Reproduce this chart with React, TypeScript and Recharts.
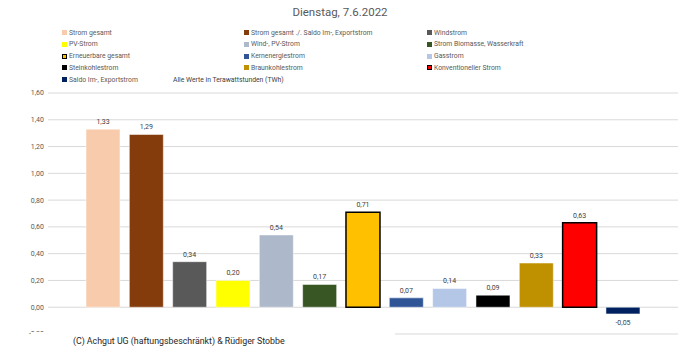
import React from 'react';
import { BarChart, Bar, XAxis, YAxis, CartesianGrid, LabelList } from 'recharts';

const seriesNames = [
	'Strom gesamt',
	'Strom gesamt ./. Saldo Im-, Exportstrom',
	'Windstrom',
	'PV-Strom',
	'Wind-, PV-Strom',
	'Strom Biomasse, Wasserkraft',
	'Erneuerbare gesamt',
	'Kernenergiestrom',
	'Gasstrom',
	'Steinkohlestrom',
	'Braunkohlestrom',
	'Konventioneller Strom',
	'Saldo Im-, Exportstrom'
];
const seriesValues = [1.33, 1.29, 0.34, 0.2, 0.54, 0.17, 0.71, 0.07, 0.14, 0.09, 0.33, 0.63, -0.05];
const seriesColors = [
	'#F8CBAD', '#843C0C', '#595959', '#FFFF00', '#ADB9CA', '#375623', '#FFC000',
	'#2F5597', '#B4C7E7', '#000000', '#BF9000', '#FF0000', '#002060'
];
const outlined = ['Erneuerbare gesamt', 'Konventioneller Strom'];
const yTicks = [-0.2, 0, 0.2, 0.4, 0.6, 0.8, 1.0, 1.2, 1.4, 1.6];
const category = 'Dienstag, 7.6.2022';

const fmt = (v: number) => v.toFixed(2).replace('.', ',');

const row: Record<string, any> = { name: category };
seriesNames.forEach((n, i) => { row[n] = seriesValues[i]; });
const chartData = [row];

const FONT = 'Roboto, "Noto Sans", sans-serif';

const ValueLabel = (props: any) => {
	const { x, y, width, height, value } = props;
	const top = Math.min(y, y + height);
	const bottom = Math.max(y, y + height);
	const ty = value >= 0 ? top - 7 : bottom + 9;
	return (
		<text x={x + width / 2} y={ty} textAnchor="middle" dominantBaseline="middle" fontSize={7} fill="#404040" fontFamily={FONT}>
			{fmt(value)}
		</text>
	);
};

const App = () => {
	return (
		<div style={{ position: 'absolute', left: 0, top: 0, width: 680, height: 355, background: '#fff', fontFamily: FONT }}>
			<div style={{ position: 'absolute', top: 5, width: 680, textAlign: 'center', fontSize: 11.5, color: '#595959' }}>
				{category}
			</div>
			{seriesNames.map((n, i) => {
				const col = i % 3;
				const r = Math.floor(i / 3);
				const left = [62, 244, 427][col];
				return (
					<div key={n} style={{ position: 'absolute', left, top: 28 + r * 11.8, height: 9, display: 'flex', alignItems: 'center', fontSize: 6.8, color: '#595959', whiteSpace: 'nowrap' }}>
						<span style={{
							display: 'inline-block', width: 5, height: 5, marginRight: 2, background: seriesColors[i], boxSizing: 'border-box',
							border: outlined.includes(n) ? '1px solid #000' : 'none'
						}} />
						{n}
					</div>
				);
			})}
			<div style={{ position: 'absolute', left: 173, top: 75.5, height: 9, display: 'flex', alignItems: 'center', fontSize: 6.8, color: '#404040', whiteSpace: 'nowrap' }}>
				Alle Werte in Terawattstunden (TWh)
			</div>
			<div style={{ position: 'absolute', left: 0, top: 0 }}>
				<BarChart width={680} height={355} data={chartData} margin={{ top: 93, right: 2, bottom: 21, left: 0 }} barSize={34} barGap={9.33}>
					<CartesianGrid vertical={false} stroke="#d9d9d9" />
					<XAxis dataKey="name" hide />
					<YAxis
						width={48}
						domain={[-0.2, 1.6]}
						ticks={yTicks}
						tickFormatter={fmt}
						axisLine={false}
						tickLine={false}
						tickSize={0}
						tickMargin={4}
						tick={{ fontSize: 7, fill: '#595959', fontFamily: FONT }}
						interval={0}
					/>
					{seriesNames.map((n, i) => (
						<Bar
							key={n}
							dataKey={n}
							fill={seriesColors[i]}
							stroke={outlined.includes(n) ? '#000' : '#fff'}
							strokeWidth={outlined.includes(n) ? 1.5 : 0.5}
							isAnimationActive={false}
						>
							<LabelList dataKey={n} content={ValueLabel} />
						</Bar>
					))}
				</BarChart>
			</div>
			<div style={{ position: 'absolute', left: 31, top: 332, width: 364, height: 20, background: '#fff' }} />
			<div style={{ position: 'absolute', left: 73, top: 336, fontSize: 8.8, color: '#262626', whiteSpace: 'nowrap' }}>
				(C) Achgut UG (haftungsbeschränkt) &amp; Rüdiger Stobbe
			</div>
		</div>
	);
};

export default App;
